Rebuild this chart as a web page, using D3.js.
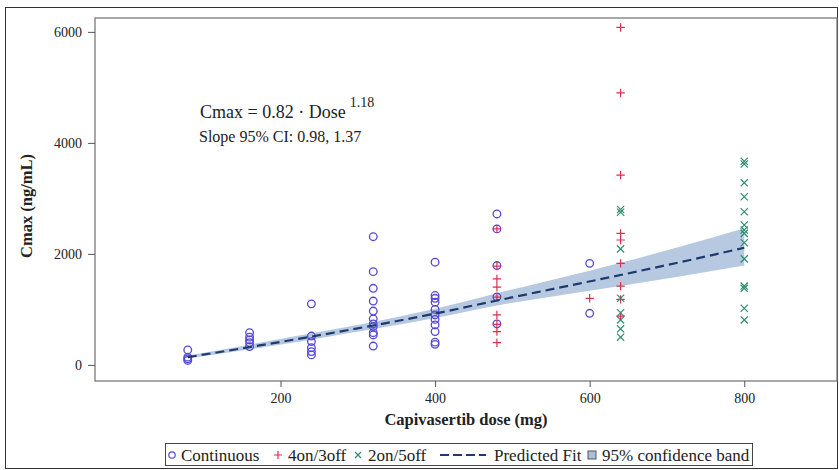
<!DOCTYPE html>
<html>
<head>
<meta charset="utf-8">
<script src="https://cdn.jsdelivr.net/npm/d3@7"></script>
<style>
  body { margin: 0; background: #fff; }
  svg text { font-family: "Liberation Serif", "Times New Roman", serif; fill: #222; }
</style>
</head>
<body>
<div id="chart"></div>
<script>
// --- data ---
var doses_cont = [80, 160, 240, 320, 400, 480, 600];
var cmax_cont = [
  [270, 140, 110, 80],
  [580, 500, 450, 400, 330],
  [1100, 520, 420, 310, 240, 180],
  [2310, 1680, 1380, 1150, 970, 830, 740, 690, 580, 540, 340],
  [1850, 1250, 1200, 1130, 1000, 900, 820, 720, 600, 410, 370],
  [2720, 2450, 1790, 1225, 740],
  [1830, 930]
];
var doses_4on = [480, 600, 640];
var cmax_4on = [
  [2450, 1780, 1550, 1400, 1220, 900, 730, 600, 400],
  [1200],
  [6080, 4900, 3420, 2370, 2250, 1830, 1420, 1180, 880]
];
var doses_2on = [640, 800];
var cmax_2on = [
  [2800, 2750, 2090, 1200, 940, 810, 650, 500],
  [3670, 3620, 3280, 3030, 2760, 2520, 2430, 2370, 2200, 1910, 1420, 1380, 1020, 810]
];
var fitDose = [80, 160, 240, 320, 400, 480, 560, 640, 720, 800];
var fitCmax = [140, 320, 510, 710, 925, 1160, 1390, 1620, 1860, 2110];
var bandUpper = [168, 365, 570, 775, 1010, 1290, 1560, 1840, 2140, 2460];
var bandLower = [115, 280, 455, 645, 845, 1070, 1250, 1420, 1600, 1790];
var xTicks = [200, 400, 600, 800];
var yTicks = [0, 2000, 4000, 6000];

var W = 839, H = 470;
var svg = d3.select("#chart").append("svg").attr("width", W).attr("height", H);

// outer frame
svg.append("rect").attr("x", 5.5).attr("y", 7.5).attr("width", 832).attr("height", 461)
  .attr("fill", "none").attr("stroke", "#333").attr("stroke-width", 1);

var plot = {left: 95, right: 837, top: 18, bottom: 381};
var x = d3.scaleLinear().domain([-40, 920]).range([plot.left, plot.right]);
var y = d3.scaleLinear().domain([-290, 6250]).range([plot.bottom, plot.top]);

// band
var area = d3.area().x(function(d, i){ return x(fitDose[i]); })
  .y0(function(d, i){ return y(bandLower[i]); })
  .y1(function(d, i){ return y(bandUpper[i]); })
  .curve(d3.curveMonotoneX);
svg.append("path").datum(fitDose).attr("d", area)
  .attr("fill", "#a9bfdc").attr("fill-opacity", 0.85);

// markers
function flat(doses, vals){
  var out = [];
  doses.forEach(function(d, i){ vals[i].forEach(function(v){ out.push({dose: d, cmax: v}); }); });
  return out;
}
var g = svg.append("g");
g.selectAll("circle.cont").data(flat(doses_cont, cmax_cont)).enter()
  .append("circle").attr("class", "cont")
  .attr("cx", function(d){ return x(d.dose); }).attr("cy", function(d){ return y(d.cmax); })
  .attr("r", 3.8).attr("fill", "none").attr("stroke", "#5347d6").attr("stroke-width", 1.3);

g.selectAll("path.on4").data(flat(doses_4on, cmax_4on)).enter()
  .append("path").attr("class", "on4")
  .attr("d", function(d){
    var cx = x(d.dose), cy = y(d.cmax), s = 4.2;
    return "M" + (cx - s) + "," + cy + "H" + (cx + s) + "M" + cx + "," + (cy - s) + "V" + (cy + s);
  })
  .attr("stroke", "#d8314f").attr("stroke-width", 1.2).attr("fill", "none");

g.selectAll("path.on2").data(flat(doses_2on, cmax_2on)).enter()
  .append("path").attr("class", "on2")
  .attr("d", function(d){
    var cx = x(d.dose), cy = y(d.cmax), s = 3.6;
    return "M" + (cx - s) + "," + (cy - s) + "L" + (cx + s) + "," + (cy + s) +
           "M" + (cx - s) + "," + (cy + s) + "L" + (cx + s) + "," + (cy - s);
  })
  .attr("stroke", "#2e8d6e").attr("stroke-width", 1.2).attr("fill", "none");

// fit line
var line = d3.line().x(function(d, i){ return x(fitDose[i]); })
  .y(function(d, i){ return y(fitCmax[i]); }).curve(d3.curveMonotoneX);
svg.append("path").datum(fitDose).attr("d", line)
  .attr("fill", "none").attr("stroke", "#1e3a6e").attr("stroke-width", 2.2)
  .attr("stroke-dasharray", "9,5");

// frame
svg.append("rect").attr("x", plot.left).attr("y", plot.top)
  .attr("width", plot.right - plot.left).attr("height", plot.bottom - plot.top)
  .attr("fill", "none").attr("stroke", "#7a7a7a").attr("stroke-width", 1.3);

// axes
var xAxis = svg.append("g").attr("transform", "translate(0," + plot.bottom + ")")
  .call(d3.axisBottom(x).tickValues(xTicks).tickSize(6).tickPadding(6).tickFormat(d3.format("d")));
var yAxis = svg.append("g").attr("transform", "translate(" + plot.left + ",0)")
  .call(d3.axisLeft(y).tickValues(yTicks).tickSize(7).tickPadding(6).tickFormat(d3.format("d")));
[xAxis, yAxis].forEach(function(a){
  a.select(".domain").remove();
  a.selectAll(".tick line").attr("stroke", "#555").attr("stroke-width", 1);
  a.selectAll(".tick text").attr("font-family", "Liberation Serif").attr("font-size", 14).attr("fill", "#333");
});

svg.append("text").attr("x", 466).attr("y", 425).attr("text-anchor", "middle")
  .attr("font-size", 16.5).attr("font-weight", "bold").text("Capivasertib dose (mg)");
svg.append("text").attr("transform", "translate(32,206) rotate(-90)")
  .attr("text-anchor", "middle").attr("font-size", 16.5).attr("font-weight", "bold").text("Cmax (ng/mL)");

// annotation
var eq = svg.append("text").attr("x", 200).attr("y", 118).attr("font-size", 18);
eq.append("tspan").text("Cmax = 0.82 \u00b7 Dose");
eq.append("tspan").attr("dx", 4).attr("dy", -11).attr("font-size", 14).text("1.18");
svg.append("text").attr("x", 199).attr("y", 142).attr("font-size", 16).text("Slope 95% CI: 0.98, 1.37");

// legend
var lg = svg.append("g");
lg.append("rect").attr("x", 165.5).attr("y", 443.5).attr("width", 587).attr("height", 22)
  .attr("fill", "#fff").attr("stroke", "#444").attr("stroke-width", 1);
var ly = 455;
lg.append("circle").attr("cx", 172).attr("cy", ly).attr("r", 3.2)
  .attr("fill", "none").attr("stroke", "#5347d6").attr("stroke-width", 1.2);
lg.append("path").attr("d", "M274," + ly + "H282M278," + (ly - 4) + "V" + (ly + 4))
  .attr("stroke", "#d8314f").attr("stroke-width", 1.2);
lg.append("path").attr("d", "M355," + (ly - 3) + "L361," + (ly + 3) + "M355," + (ly + 3) + "L361," + (ly - 3))
  .attr("stroke", "#2e8d6e").attr("stroke-width", 1.2);
lg.append("path").attr("d", "M440," + ly + "H486").attr("stroke", "#1e3a6e")
  .attr("stroke-width", 2.2).attr("stroke-dasharray", "9,4");
lg.append("rect").attr("x", 588).attr("y", ly - 4).attr("width", 8).attr("height", 8)
  .attr("fill", "#a9bfdc").attr("stroke", "#555").attr("stroke-width", 1);
var legText = [[181, "Continuous"], [288, "4on/3off"], [368, "2on/5off"], [494, "Predicted Fit"], [602, "95% confidence band"]];
lg.selectAll("text.lt").data(legText).enter().append("text").attr("class", "lt")
  .attr("x", function(d){ return d[0]; }).attr("y", ly + 5.5)
  .attr("font-size", 17).text(function(d){ return d[1]; });
</script>
</body>
</html>
